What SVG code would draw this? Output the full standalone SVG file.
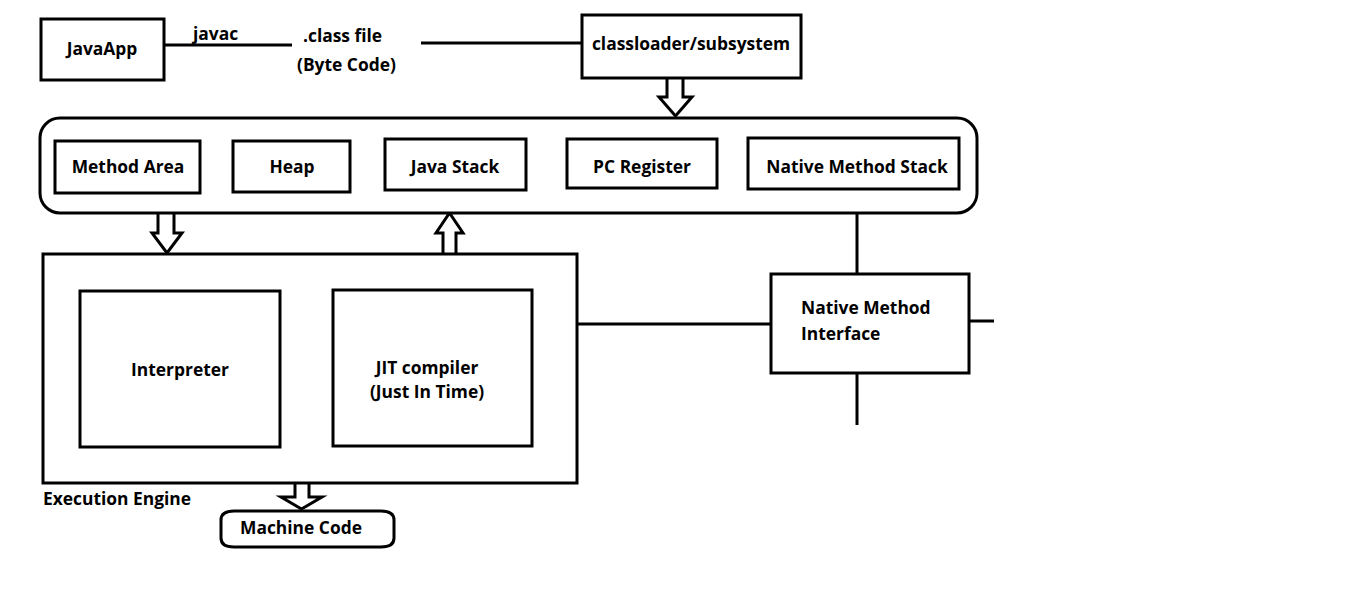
<svg xmlns="http://www.w3.org/2000/svg" width="1360" height="594" viewBox="0 0 1360 594">
<style>
.b{fill:#fff;stroke:#000;stroke-width:3}
.l{fill:none;stroke:#000;stroke-width:3}
.a{fill:#fff;stroke:#000;stroke-width:3;stroke-linejoin:miter}
text{font-family:"Open Sans","Noto Sans",sans-serif;font-weight:700;font-size:17.4px;fill:#000}
.m{text-anchor:middle}
</style>
<rect width="1360" height="594" fill="#fff"/>
<g id="connectors">
<line class="l" x1="164" y1="45" x2="292" y2="45"/>
<line class="l" x1="421" y1="43" x2="582" y2="43"/>
<line class="l" x1="577" y1="324" x2="771" y2="324"/>
<line class="l" x1="857" y1="213" x2="857" y2="274"/>
<line class="l" x1="969" y1="321" x2="994" y2="321"/>
<line class="l" x1="857" y1="373" x2="857" y2="425"/>
<path class="a" d="M667,78 V97 H659 L675.5,116 L692,97 H683 V78"/>
<path class="a" d="M158,213 V233 H152 L167,253 L182,233 H174 V213"/>
<path class="a" d="M443,254 V233 H436 L449.5,213 L463,233 H456 V254"/>
<path class="a" d="M295,483 V497 H281 L301.5,509 L322,497 H309 V483"/>
<text x="193" y="40">javac</text>
<text x="303" y="42">.class file</text>
<text x="297" y="71">(Byte Code)</text>
</g>
<g id="javaapp">
<rect class="b" x="41" y="19" width="123" height="61"/>
<text class="m" x="102" y="55">JavaApp</text>
</g>
<g id="classloader">
<rect class="b" x="582" y="15" width="219" height="63"/>
<text class="m" x="691" y="50">classloader/subsystem</text>
</g>
<g id="runtime-data-areas">
<rect class="b" x="40" y="118" width="937" height="95" rx="20" ry="20"/>
</g>
<g id="method-area">
<rect class="b" x="55" y="141" width="145" height="52"/>
<text class="m" x="128" y="173">Method Area</text>
</g>
<g id="heap">
<rect class="b" x="233" y="141" width="117" height="51"/>
<text class="m" x="292" y="173">Heap</text>
</g>
<g id="java-stack">
<rect class="b" x="385" y="139" width="141" height="51"/>
<text class="m" x="455" y="173">Java Stack</text>
</g>
<g id="pc-register">
<rect class="b" x="567" y="139" width="150" height="49"/>
<text class="m" x="642" y="173">PC Register</text>
</g>
<g id="native-method-stack">
<rect class="b" x="748" y="138" width="211" height="51"/>
<text class="m" x="857" y="173">Native Method Stack</text>
</g>
<g id="execution-engine">
<rect class="b" x="43" y="254" width="534" height="229"/>
<text x="43" y="505">Execution Engine</text>
</g>
<g id="interpreter">
<rect class="b" x="80" y="291" width="200" height="156"/>
<text class="m" x="180" y="376">Interpreter</text>
</g>
<g id="jit-compiler">
<rect class="b" x="333" y="290" width="199" height="156"/>
<text class="m" x="427" y="374">JIT compiler</text>
<text class="m" x="427" y="398">(Just In Time)</text>
</g>
<g id="native-method-interface">
<rect class="b" x="771" y="274" width="198" height="99"/>
<text x="801" y="314">Native Method</text>
<text x="801" y="340">Interface</text>
</g>
<g id="machine-code">
<path class="b" d="M234,511 H381 Q394,511 394,520 V538 Q394,547 381,547 H234 Q221,547 221,538 V520 Q221,511 234,511 Z"/>
<text x="240" y="534">Machine Code</text>
</g>
</svg>
